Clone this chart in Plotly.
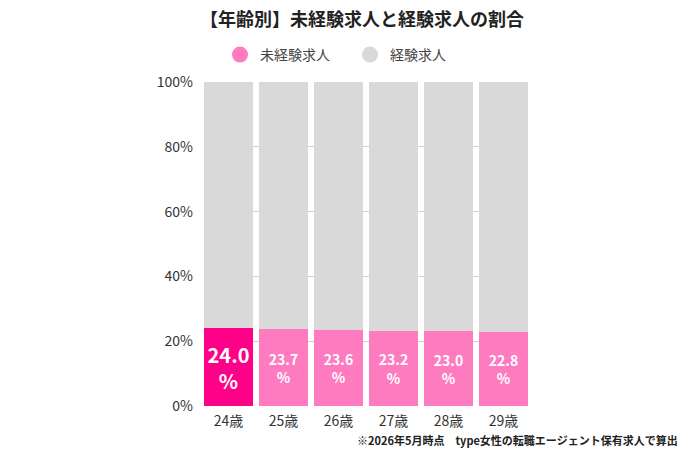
import plotly.graph_objects as go

ages = ["24歳", "25歳", "26歳", "27歳", "28歳", "29歳"]
inexperienced = [24.0, 23.7, 23.6, 23.2, 23.0, 22.8]
experienced = [76.0, 76.3, 76.4, 76.8, 77.0, 77.2]

pink = "#FF7BC0"
hot_pink = "#FF0088"
grey = "#D9D9D9"
font_family = "Noto Sans CJK JP"

bar_colors = [hot_pink] + [pink] * (len(ages) - 1)
text_sizes = [20] + [14] * (len(ages) - 1)

# plot area in pixels
L, R, T, B = 204, 172, 82, 44
plot_w = 700 - L - R
plot_h = 450 - T - B


def px_x(x):
    return (x - L) / plot_w


def px_y(y):
    return (450 - B - y) / plot_h


fig = go.Figure()

fig.add_trace(go.Bar(
    x=ages, y=inexperienced,
    marker=dict(color=bar_colors, line=dict(width=0)),
    texttemplate="%{y:.1f}<br>%",
    textposition="inside",
    insidetextanchor="middle",
    textfont=dict(color="white", size=text_sizes, family=font_family, weight="bold"),
    showlegend=False,
    hoverinfo="skip",
))
fig.add_trace(go.Bar(
    x=ages, y=experienced,
    marker=dict(color=grey, line=dict(width=0)),
    showlegend=False,
    hoverinfo="skip",
))

# legend entries drawn as circles
fig.add_trace(go.Scatter(x=[None], y=[None], mode="markers", name="未経験求人",
                         marker=dict(color=pink, size=16, symbol="circle")))
fig.add_trace(go.Scatter(x=[None], y=[None], mode="markers", name="経験求人",
                         marker=dict(color=grey, size=16, symbol="circle")))

fig.update_layout(
    barmode="stack",
    bargap=0.109,
    width=700, height=450,
    margin=dict(l=L, r=R, t=T, b=B, autoexpand=False),
    paper_bgcolor="white",
    plot_bgcolor="white",
    font=dict(family=font_family, size=14, color="#333333"),
    legend=dict(orientation="h", x=px_x(220), xanchor="left",
                y=px_y(55), yanchor="middle",
                font=dict(size=14, color="#444444"),
                entrywidth=85, entrywidthmode="pixels", traceorder="normal"),
    xaxis=dict(range=[-0.445, 5.445], showgrid=False, showline=False,
               ticks="", ticklabelstandoff=5,
               tickfont=dict(size=14, color="#333333")),
    yaxis=dict(range=[0, 100], dtick=20, ticksuffix="%", showgrid=True,
               gridcolor="#CFCFCF", gridwidth=1, zeroline=False,
               showline=False, ticks="", ticklabelstandoff=10,
               tickfont=dict(size=14, color="#333333")),
    annotations=[
        dict(text="<b>【年齢別】未経験求人と経験求人の割合</b>",
             x=px_x(362), xref="paper", xanchor="center",
             y=px_y(18), yref="paper", yanchor="middle", showarrow=False,
             font=dict(size=18, color="#222222")),
        dict(text="<b>※2026年5月時点　type女性の転職エージェント保有求人で算出</b>",
             x=px_x(680), xref="paper", xanchor="right",
             y=px_y(440), yref="paper", yanchor="middle", showarrow=False,
             font=dict(size=11, color="#222222")),
    ],
)

# the page's default body margin would shift the figure by 8px
fig.write_html("out.html", config={"displayModeBar": False},
               post_script="document.body.style.margin='0';")
